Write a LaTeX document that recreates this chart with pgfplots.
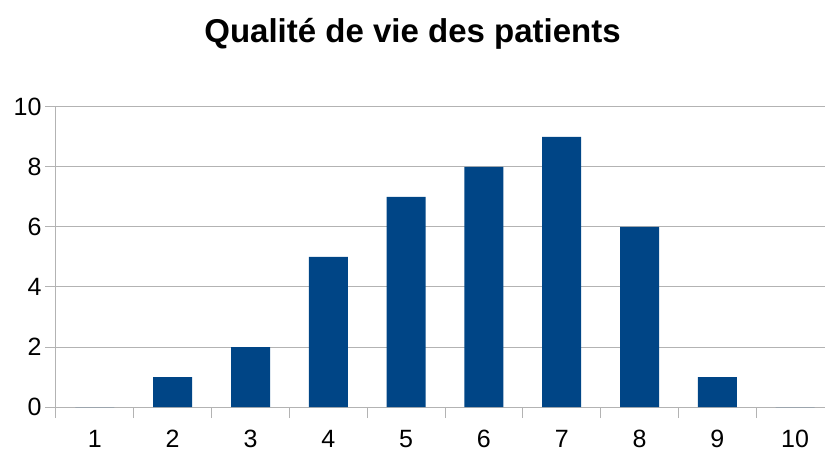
\documentclass[border=0pt]{standalone}
\usepackage{pgfplots}
\pgfplotsset{compat=1.18}
\usepackage{fontspec}
\setmainfont{Liberation Sans}
\definecolor{barblue}{HTML}{004586}
\definecolor{gridgray}{HTML}{B3B3B3}

\begin{document}
\begin{tikzpicture}
\useasboundingbox (-56bp,-45bp) rectangle (769bp,407bp);
\clip (-56bp,-45bp) rectangle (769bp,407bp);
\node[anchor=base, font=\fontsize{33bp}{38bp}\selectfont\bfseries] at (356.5bp,364bp) {Qualité de vie des patients};
\begin{axis}[
    at={(0,0)}, anchor=south west,
    scale only axis,
    width=778bp, height=300bp,
    xmin=0.5, xmax=10.5,
    ymin=0, ymax=10,
    ytick={0,2,4,6,8,10},
    xtick={1,2,3,4,5,6,7,8,9,10},
    minor xtick={0.5,1.5,2.5,3.5,4.5,5.5,6.5,7.5,8.5,9.5,10.5},
    every major x tick/.append style={draw=none},
    axis x line*=bottom,
    axis y line*=left,
    axis line style={gridgray, line width=1bp},
    tick style={gridgray, line width=1bp},
    tick align=outside,
    major tick length=11bp,
    minor tick length=11bp,
    ymajorgrids,
    grid style={gridgray, line width=1bp},
    tick label style={font=\fontsize{25bp}{30bp}\selectfont, text=black},
    x tick label style={inner sep=0pt, yshift=-12bp},
    /pgf/number format/assume math mode=true,
]
\addplot[ybar, bar width=39bp, fill=barblue, draw=none]
    coordinates {(1,0) (2,1) (3,2) (4,5) (5,7) (6,8) (7,9) (8,6) (9,1) (10,0)};
\end{axis}
\end{tikzpicture}
\end{document}
